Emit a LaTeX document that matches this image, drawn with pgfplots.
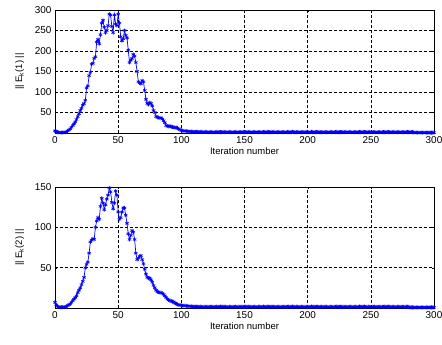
\documentclass[border=0pt]{standalone}
\usepackage{fontspec}
\setmainfont{Liberation Sans}
\usepackage{pgfplots}
\pgfplotsset{compat=1.18}
\begin{document}
\begin{tikzpicture}
\useasboundingbox (0,0) rectangle (442bp,345bp);
\pgfplotsset{myax/.style={scale only axis, width=379bp, xmin=0, xmax=300,
  xtick={0,50,...,300}, grid=major,
  major grid style={black, dash pattern=on 3pt off 2pt, line width=0.55pt},
  tick align=inside, major tick length=2.5pt,
  axis line style={black, line width=0.7pt}, tick style={black},
  every tick label/.append style={font=\fontsize{10}{11}\selectfont},
  label style={font=\fontsize{9.5}{11}\selectfont},
  /pgf/number format/assume math mode=true,
  xlabel={Iteration number}, xlabel style={yshift=3pt},
  ylabel style={yshift=4pt},
  scaled ticks=false},
  myplot/.style={blue, line width=0.7pt, mark=asterisk, mark size=2pt, mark options={line width=0.6pt}}}
\begin{axis}[myax, at={(55bp,212bp)}, height=123bp, ymin=0, ymax=300,
  ytick={50,100,...,300}, ylabel={\textbar\textbar{} E\textsubscript{k}(1) \textbar\textbar}]
\addplot[myplot] coordinates {
(0,5) (1,3) (2,2) (3,1.5) (4,1.2) (5,1) (6,1.2) (7,1.5) (8,2) (9,3)
(10,5) (11,7) (12,10) (13,14) (14,18) (15,22) (16,27) (17,33) (18,40) (19,47)
(20,55) (21,60) (22,68) (23,72) (24,80) (25,110) (26,115) (27,140) (28,148) (29,168)
(30,170) (31,182) (32,186) (33,222) (34,228) (35,218) (36,240) (37,268) (38,275) (39,258)
(40,245) (41,250) (42,262) (43,290) (44,288) (45,260) (46,245) (47,288) (48,266) (49,262)
(50,290) (51,268) (52,235) (53,225) (54,230) (55,250) (56,238) (57,232) (58,202) (59,172)
(60,178) (61,182) (62,192) (63,188) (64,172) (65,150) (66,125) (67,122) (68,120) (69,128)
(70,125) (71,104) (72,82) (73,72) (74,70) (75,74) (76,72) (77,66) (78,55) (79,50)
(80,40) (81,38) (82,38) (83,36) (84,37) (85,34) (86,30) (87,25) (88,18) (89,17)
(90,16) (91,17) (92,15) (93,15) (94,14) (95,13) (96,13) (97,12) (98,10) (99,8)
(100,6) (101,6) (102,5) (103,5) (104,4.5) (105,4) (106,4) (107,3.5) (108,3.5) (109,3)
(110,3) (111,3.0) (112,2.9) (113,2.8) (114,2.8) (115,2.7) (116,2.7) (117,2.6) (118,2.6) (119,2.5) (120,2.5)
(121,2.4) (122,2.2) (123,2.5) (124,2.3) (125,2.4) (126,2.1) (127,2.3) (128,2.5) (129,2.2) (130,2.4)
(131,2.4) (132,2.2) (133,2.5) (134,2.3) (135,2.4) (136,2.1) (137,2.3) (138,2.5) (139,2.2) (140,2.4)
(141,2.4) (142,2.2) (143,2.5) (144,2.3) (145,2.4) (146,2.1) (147,2.3) (148,2.5) (149,2.2) (150,2.4)
(151,2.4) (152,2.2) (153,2.5) (154,2.3) (155,2.4) (156,2.1) (157,2.3) (158,2.5) (159,2.2) (160,2.4)
(161,2.4) (162,2.2) (163,2.5) (164,2.3) (165,2.4) (166,2.1) (167,2.3) (168,2.5) (169,2.2) (170,2.4)
(171,2.4) (172,2.2) (173,2.5) (174,2.3) (175,2.4) (176,2.1) (177,2.3) (178,2.5) (179,2.2) (180,2.4)
(181,2.4) (182,2.2) (183,2.5) (184,2.3) (185,2.4) (186,2.1) (187,2.3) (188,2.5) (189,2.2) (190,2.4)
(191,2.4) (192,2.2) (193,2.5) (194,2.3) (195,2.4) (196,2.1) (197,2.3) (198,2.5) (199,2.2) (200,2.4)
(201,2.4) (202,2.2) (203,2.5) (204,2.3) (205,2.4) (206,2.1) (207,2.3) (208,2.5) (209,2.2) (210,2.4)
(211,2.4) (212,2.2) (213,2.5) (214,2.3) (215,2.4) (216,2.1) (217,2.3) (218,2.5) (219,2.2) (220,2.4)
(221,2.4) (222,2.2) (223,2.5) (224,2.3) (225,2.4) (226,2.1) (227,2.3) (228,2.5) (229,2.2) (230,2.4)
(231,2.4) (232,2.2) (233,2.5) (234,2.3) (235,2.4) (236,2.1) (237,2.3) (238,2.5) (239,2.2) (240,2.4)
(241,2.4) (242,2.2) (243,2.5) (244,2.3) (245,2.4) (246,2.1) (247,2.3) (248,2.5) (249,2.2) (250,2.4)
(251,2.4) (252,2.2) (253,2.5) (254,2.3) (255,2.4) (256,2.1) (257,2.3) (258,2.5) (259,2.2) (260,2.4)
(261,2.4) (262,2.2) (263,2.5) (264,2.3) (265,2.4) (266,2.1) (267,2.3) (268,2.5) (269,2.2) (270,2.4)
(271,2.4) (272,2.2) (273,2.5) (274,2.3) (275,2.4) (276,2.1) (277,2.3) (278,2.5) (279,2.2) (280,2.4)
(281,2.3) (282,2.2) (283,2.0) (284,1.3) (285,1.2) (286,1.2) (287,1.1) (288,1.2) (289,1.1) (290,1.2)
(291,1.1) (292,1.2) (293,1.1) (294,1.0) (295,1.1) (296,1.0) (297,1.1) (298,1.0) (299,1.0) (300,1.0)
};
\end{axis}
\begin{axis}[myax, at={(55bp,37bp)}, height=121bp, ymin=0, ymax=150,
  ytick={50,100,150}, ylabel={\textbar\textbar{} E\textsubscript{k}(2) \textbar\textbar}]
\addplot[myplot] coordinates {
(0,7) (1,4) (2,2) (3,1.5) (4,1) (5,1) (6,1) (7,1.2) (8,1.5) (9,2)
(10,3) (11,4) (12,5) (13,7) (14,9) (15,11) (16,13) (17,15) (18,19) (19,22)
(20,25) (21,29) (22,33) (23,38) (24,50) (25,54) (26,57) (27,68) (28,82) (29,84)
(30,86) (31,85) (32,100) (33,108) (34,112) (35,110) (36,126) (37,136) (38,130) (39,122)
(40,128) (41,135) (42,140) (43,149) (44,144) (45,131) (46,123) (47,130) (48,145) (49,140)
(50,119) (51,110) (52,112) (53,119) (54,124) (55,124) (56,115) (57,105) (58,92) (59,85)
(60,90) (61,96) (62,94) (63,85) (64,68) (65,60) (66,62) (67,64) (68,65) (69,60)
(70,55) (71,48) (72,42) (73,38) (74,37) (75,37) (76,35) (77,32) (78,28) (79,25)
(80,22) (81,20) (82,20) (83,19) (84,19) (85,18) (86,17) (87,15) (88,13) (89,11)
(90,10) (91,9) (92,8.5) (93,8) (94,7.5) (95,6) (96,5) (97,4.5) (98,4) (99,3.5)
(100,3.3) (101,3) (102,3) (103,2.8) (104,2.6) (105,2.4) (106,2.2) (107,2) (108,2) (109,1.8)
(110,1.8) (111,1.6) (112,1.5) (113,1.7) (114,1.4) (115,1.6) (116,1.5) (117,1.3) (118,1.6) (119,1.5) (120,1.4)
(121,1.6) (122,1.5) (123,1.7) (124,1.4) (125,1.6) (126,1.5) (127,1.3) (128,1.6) (129,1.5) (130,1.4)
(131,1.6) (132,1.5) (133,1.7) (134,1.4) (135,1.6) (136,1.5) (137,1.3) (138,1.6) (139,1.5) (140,1.4)
(141,1.6) (142,1.5) (143,1.7) (144,1.4) (145,1.6) (146,1.5) (147,1.3) (148,1.6) (149,1.5) (150,1.4)
(151,1.6) (152,1.5) (153,1.7) (154,1.4) (155,1.6) (156,1.5) (157,1.3) (158,1.6) (159,1.5) (160,1.4)
(161,1.6) (162,1.5) (163,1.7) (164,1.4) (165,1.6) (166,1.5) (167,1.3) (168,1.6) (169,1.5) (170,1.4)
(171,1.6) (172,1.5) (173,1.7) (174,1.4) (175,1.6) (176,1.5) (177,1.3) (178,1.6) (179,1.5) (180,1.4)
(181,1.6) (182,1.5) (183,1.7) (184,1.4) (185,1.6) (186,1.5) (187,1.3) (188,1.6) (189,1.5) (190,1.4)
(191,1.6) (192,1.5) (193,1.7) (194,1.4) (195,1.6) (196,1.5) (197,1.3) (198,1.6) (199,1.5) (200,1.4)
(201,1.6) (202,1.5) (203,1.7) (204,1.4) (205,1.6) (206,1.5) (207,1.3) (208,1.6) (209,1.5) (210,1.4)
(211,1.6) (212,1.5) (213,1.7) (214,1.4) (215,1.6) (216,1.5) (217,1.3) (218,1.6) (219,1.5) (220,1.4)
(221,1.6) (222,1.5) (223,1.7) (224,1.4) (225,1.6) (226,1.5) (227,1.3) (228,1.6) (229,1.5) (230,1.4)
(231,1.6) (232,1.5) (233,1.7) (234,1.4) (235,1.6) (236,1.5) (237,1.3) (238,1.6) (239,1.5) (240,1.4)
(241,1.6) (242,1.5) (243,1.7) (244,1.4) (245,1.6) (246,1.5) (247,1.3) (248,1.6) (249,1.5) (250,1.4)
(251,1.6) (252,1.5) (253,1.7) (254,1.4) (255,1.6) (256,1.5) (257,1.3) (258,1.6) (259,1.5) (260,1.4)
(261,1.6) (262,1.5) (263,1.7) (264,1.4) (265,1.6) (266,1.5) (267,1.3) (268,1.6) (269,1.5) (270,1.4)
(271,1.6) (272,1.5) (273,1.7) (274,1.4) (275,1.6) (276,1.5) (277,1.3) (278,1.6) (279,1.5) (280,1.4)
(281,0.8) (282,0.8) (283,0.7) (284,0.8) (285,0.7) (286,0.8) (287,0.7) (288,0.8) (289,0.7) (290,0.8)
(291,0.7) (292,0.8) (293,0.7) (294,0.8) (295,0.7) (296,0.8) (297,0.7) (298,0.8) (299,0.7) (300,0.8)
};
\end{axis}
\end{tikzpicture}
\end{document}
